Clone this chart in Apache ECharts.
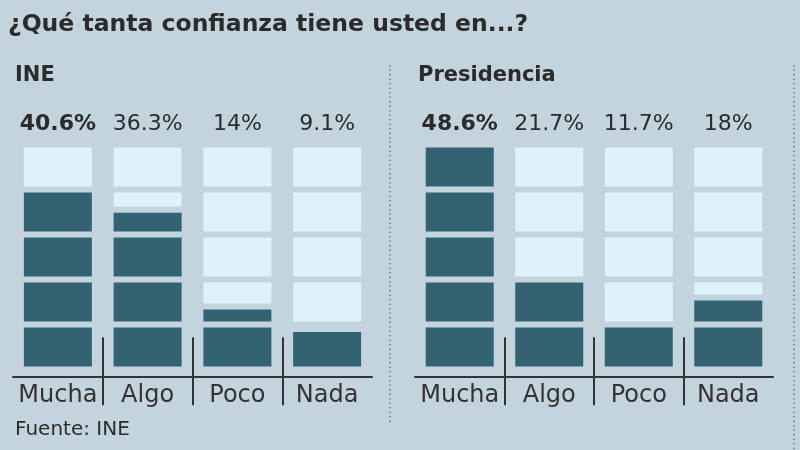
<!DOCTYPE html>
<html>
<head>
<meta charset="utf-8">
<script src="https://cdn.jsdelivr.net/npm/echarts@6/dist/echarts.min.js"></script>
<style>
  html, body { margin: 0; padding: 0; background: #c3d4dd; }
  #main { width: 800px; height: 450px; }
</style>
</head>
<body>
<div id="main"></div>
<script>
  // datos
  var categories = ['Mucha', 'Algo', 'Poco', 'Nada'];
  // porcentajes impresos sobre cada columna
  var ineLabels = [40.6, 36.3, 14, 9.1];
  var presLabels = [48.6, 21.7, 11.7, 18];
  // altura de la parte oscura tal como está dibujada (en puntos)
  var ineHeights = [40, 35.5, 14, 9];
  var presHeights = [50, 20, 10, 16];
  var segmentSize = 10;
  var segmentCount = 5;

  var bg = '#c3d4dd';
  var dark = '#336372';
  var light = '#def2fb';
  var ink = '#2b2b2b';
  var font = 'DejaVu Sans';

  var chart = echarts.init(document.getElementById('main'));

  // series por segmento: parte oscura y parte clara de cada bloque de 10 puntos
  function buildSeries(heights, labels, idx) {
    var out = [];
    var maxV = Math.max.apply(null, labels);
    for (var i = 0; i < segmentCount; i++) {
      var d = [], l = [];
      for (var j = 0; j < heights.length; j++) {
        var part = Math.min(Math.max(heights[j] - i * segmentSize, 0), segmentSize);
        d.push(part > 0 ? part : '-');
        l.push(segmentSize - part > 0 ? +(segmentSize - part).toFixed(2) : '-');
      }
      out.push({
        type: 'bar', xAxisIndex: idx * 2, yAxisIndex: idx, stack: 's' + idx,
        barWidth: 74, data: d, silent: true,
        itemStyle: { color: dark, borderColor: bg, borderWidth: 3 }
      });
      out.push({
        type: 'bar', xAxisIndex: idx * 2, yAxisIndex: idx, stack: 's' + idx,
        barWidth: 74, data: l, silent: true,
        itemStyle: { color: light, borderColor: bg, borderWidth: 3 }
      });
    }
    // etiquetas de porcentaje sobre la pila
    out.push({
      type: 'bar', xAxisIndex: idx * 2, yAxisIndex: idx, stack: 's' + idx,
      barWidth: 74, silent: true,
      data: labels.map(function (v) {
        return {
          value: 0,
          label: { fontWeight: v === maxV ? 'bold' : 'normal' }
        };
      }),
      itemStyle: { color: 'transparent', borderWidth: 0 },
      label: {
        show: true, position: 'top', distance: 9,
        fontFamily: font, fontSize: 22, color: ink,
        formatter: function (p) { return labels[p.dataIndex] + '%'; }
      }
    });
    return out;
  }

  var grids = [
    { left: 13, width: 359, top: 144.5, bottom: 73.75 },
    { left: 415, width: 358, top: 144.5, bottom: 73.75 }
  ];

  var xAxes = [], yAxes = [];
  [0, 1].forEach(function (g) {
    xAxes.push({
      type: 'category', gridIndex: g, position: 'bottom', data: categories,
      axisLine: { onZero: false, lineStyle: { color: '#333', width: 2 } },
      axisTick: { show: false },
      axisLabel: { interval: 0, fontFamily: font, fontSize: 24, color: '#333', margin: 8 }
    });
    xAxes.push({
      type: 'category', gridIndex: g, position: 'bottom', boundaryGap: false,
      data: ['', '', '', '', ''], offset: -39,
      axisLine: { show: false, onZero: false },
      axisLabel: { show: false },
      axisTick: {
        show: true, length: 68,
        interval: function (i) { return i > 0 && i < 4; },
        lineStyle: { color: '#333', width: 2 }
      }
    });
    yAxes.push({
      type: 'value', gridIndex: g, min: -1.5, max: 50, show: false,
      splitLine: { show: false }
    });
  });

  var option = {
    backgroundColor: bg,
    animation: false,
    grid: grids,
    xAxis: xAxes,
    yAxis: yAxes,
    series: buildSeries(ineHeights, ineLabels, 0).concat(buildSeries(presHeights, presLabels, 1)),
    graphic: [
      { type: 'text', left: 8, top: 13, style: { text: '¿Qué tanta confianza tiene usted en...?', fontFamily: font, fontWeight: 'bold', fontSize: 23.5, fill: ink } },
      { type: 'text', left: 15, top: 65, style: { text: 'INE', fontFamily: font, fontWeight: 'bold', fontSize: 21, fill: ink } },
      { type: 'text', left: 418, top: 65, style: { text: 'Presidencia', fontFamily: font, fontWeight: 'bold', fontSize: 21, fill: ink } },
      { type: 'text', left: 15, top: 420, style: { text: 'Fuente: INE', fontFamily: font, fontSize: 20, fill: ink } },
      { type: 'line', shape: { x1: 390, y1: 65, x2: 390, y2: 423 }, style: { stroke: '#6c7d86', lineWidth: 1.5, lineDash: [1.5, 3] } },
      { type: 'line', shape: { x1: 794, y1: 65, x2: 794, y2: 450 }, style: { stroke: '#6c7d86', lineWidth: 1.5, lineDash: [1.5, 3] } }
    ]
  };

  chart.setOption(option);
</script>
</body>
</html>
